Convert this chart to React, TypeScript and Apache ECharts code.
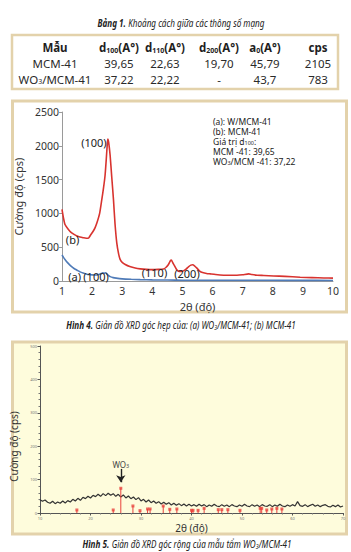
import React, { useEffect, useRef } from 'react';
import * as echarts from 'echarts';

const F = '"Noto Sans", sans-serif';
const TAN = '#e3d2ab';
const RED = '#d8332f';
const BLUE = '#4f7bb8';

// ---------- Table 1 ----------
const headerMain = ['Mẫu', 'd', 'd', 'd', 'a', 'cps'];
const headerSub = ['', '100', '110', '200', '0', ''];
const headerUnit = ['', '(A°)', '(A°)', '(A°)', '(A°)', ''];
const sampleMain = ['MCM-41', 'WO'];
const sampleSub = ['', '3'];
const sampleTail = ['', '/MCM-41'];
const d100Values = ['39,65', '37,22'];
const d110Values = ['22,63', '22,22'];
const d200Values = ['19,70', '-'];
const a0Values = ['45,79', '43,7'];
const cpsValues = ['2105', '783'];

// ---------- Figure 4 (small angle XRD) ----------
const xTicks4 = [1, 10];
const yTicks4 = [0, 2500];
const mcm41Scan = [
  [1, 1060], [1.05, 930], [1.1, 835], [1.2, 770], [1.3, 720], [1.4, 690], [1.5, 665], [1.6, 650],
  [1.7, 640], [1.8, 632], [1.88, 635], [1.95, 680], [2.04, 740], [2.1, 790], [2.16, 860], [2.25, 1000],
  [2.32, 1200], [2.38, 1380], [2.43, 1560], [2.47, 1800], [2.5, 2000], [2.52, 2100], [2.55, 2050],
  [2.6, 1850], [2.65, 1550], [2.71, 1200], [2.76, 850], [2.82, 560], [2.88, 400], [2.93, 320],
  [3.0, 275], [3.1, 245], [3.25, 215], [3.43, 192], [3.6, 180], [3.8, 172], [4.0, 168], [4.2, 172],
  [4.37, 178], [4.45, 200], [4.53, 240], [4.6, 300], [4.63, 310], [4.68, 270], [4.72, 238], [4.8, 175],
  [4.87, 145], [4.95, 142], [5.03, 150], [5.12, 175], [5.2, 210], [5.28, 235], [5.34, 240], [5.4, 225],
  [5.48, 190], [5.56, 150], [5.64, 128], [5.8, 112], [5.92, 105], [6.1, 95], [6.37, 86], [6.6, 85],
  [6.81, 85], [7.0, 92], [7.2, 105], [7.3, 95], [7.48, 86], [7.7, 82], [8.03, 75], [8.4, 68],
  [8.91, 56], [9.3, 50], [9.7, 45], [10, 42],
];
const wo3Scan = [
  [1, 385], [1.05, 350], [1.1, 318], [1.15, 290], [1.2, 265], [1.3, 220], [1.4, 185], [1.5, 160],
  [1.6, 135], [1.7, 118], [1.8, 105], [1.9, 95], [2.0, 90], [2.1, 88], [2.2, 92], [2.3, 110],
  [2.35, 120], [2.4, 115], [2.45, 122], [2.5, 100], [2.55, 80], [2.6, 65], [2.7, 50], [2.8, 42],
  [3.0, 32], [3.3, 25], [3.6, 20], [4.0, 16], [4.5, 14], [5, 12], [5.5, 12], [6, 11], [7, 10],
  [8, 10], [9, 9], [10, 8],
];
const redLabels = [
  { text: '(100)', at: [2.06, 2056] },
  { text: '(b)', at: [1.35, 621] },
  { text: '(110)', at: [4.07, 133] },
  { text: '(200)', at: [5.15, 104] },
];
const blueLabels = [
  { text: '(a)', at: [1.42, 60] },
  { text: '(100)', at: [2.13, 60] },
];
const noteLines = [
  '{t|(a): W/MCM-41}',
  '{t|(b): MCM-41}',
  '{t|Giá trị d}{s|100}{t|:}',
  '{t|MCM -41: 39,65}',
  '{t|WO}{s|3}{t|/MCM -41: 37,22}',
];
const noteY = [121, 131, 141, 151, 161];

// ---------- Figure 5 (wide angle XRD) ----------
const xTicks5 = [10, 70];
const yTicks5 = [0, 500];
const wideScan = [
  [10, 40], [10.5, 35], [11, 39], [11.5, 32], [12, 29], [12.5, 35], [13, 28], [13.5, 33], [14, 29],
  [14.5, 36], [15, 30], [15.5, 37], [16, 33], [16.5, 41], [17, 36], [17.5, 44], [18, 38], [18.5, 47],
  [19, 43], [19.5, 50], [20, 45], [20.5, 53], [21, 49], [21.5, 56], [22, 50], [22.5, 58], [23, 52],
  [23.5, 59], [24, 53], [24.5, 58], [25, 50], [25.5, 56], [26, 48], [26.5, 54], [27, 45], [27.5, 51],
  [28, 43], [28.5, 48], [29, 40], [29.5, 46], [30, 36], [30.5, 41], [31, 33], [31.5, 39], [32, 31],
  [32.5, 36], [33, 29], [33.5, 34], [34, 27], [34.5, 32], [35, 26], [35.5, 31], [36, 24], [36.5, 29],
  [37, 23], [37.5, 28], [38, 22], [38.5, 27], [39, 21], [39.5, 26], [40, 21], [40.5, 25], [41, 20],
  [41.5, 26], [42, 21], [42.5, 25], [43, 19], [43.5, 24], [44, 20], [44.5, 26], [45, 21], [45.5, 19],
  [46, 25], [46.5, 20], [47, 24], [47.5, 19], [48, 25], [48.5, 21], [49, 19], [49.5, 24], [50, 20],
  [50.5, 26], [51, 21], [51.5, 19], [52, 25], [52.5, 20], [53, 24], [53.5, 19], [54, 25], [54.5, 21],
  [55, 20], [55.5, 25], [56, 19], [56.5, 24], [57, 20], [57.5, 26], [58, 21], [58.5, 19], [59, 24],
  [59.5, 20], [60, 25], [60.5, 21], [61, 34], [61.5, 22], [62, 20], [62.5, 25], [63, 19], [63.5, 23],
  [64, 26], [64.5, 20], [65, 24], [65.5, 19], [66, 23], [66.5, 25], [67, 20], [67.5, 18], [68, 23],
  [68.5, 19], [69, 24], [69.5, 18], [70, 21],
];
const wo3RefPeaks = [
  [17.3, 9], [24.5, 9], [26.0, 74], [28.4, 21], [29.8, 7], [31.3, 12], [31.8, 12], [34.4, 21],
  [35.7, 11], [37.1, 12], [40.0, 8], [40.3, 8], [41.3, 8], [42.5, 14], [45.3, 10], [46.0, 10],
  [47.2, 10], [49.6, 8], [53.6, 14], [53.9, 14], [54.9, 9], [55.9, 12], [56.9, 14], [57.9, 12],
];

const colX = [55, 119, 165, 219, 265, 318];
const rowY = [47.5, 63.5, 79];

function cellText(x: number, y: number, text: string) {
  return {
    type: 'text', x, y, z: 10,
    style: {
      text,
      align: 'center', verticalAlign: 'middle', textAlign: 'center', textVerticalAlign: 'middle',
      fontFamily: F, fontSize: 11.5, fill: '#2a2a2a',
      rich: {
        h: { fontFamily: F, fontSize: 11.5, lineHeight: 12, fontWeight: 'bold', fill: '#1e1e1e' },
        hs: { fontFamily: F, fontSize: 7, lineHeight: 7, fontWeight: 'bold', fill: '#1e1e1e', padding: [5, 0, 0, 0] },
        c: { fontFamily: F, fontSize: 11.5, lineHeight: 12, fill: '#2a2a2a' },
        cs: { fontFamily: F, fontSize: 7, lineHeight: 7, fill: '#2a2a2a', padding: [5, 0, 0, 0] },
      },
    },
  };
}

function caption(x: number, y: number, text: string) {
  return {
    type: 'text', x, y, z: 10, scaleX: 0.74,
    style: {
      text,
      align: 'center', verticalAlign: 'middle', textAlign: 'center', textVerticalAlign: 'middle',
      fontFamily: F, fontSize: 11, fill: '#222',
      rich: {
        b: { fontFamily: F, fontSize: 11, fontWeight: 'bold', fontStyle: 'italic', fill: '#222' },
        i: { fontFamily: F, fontSize: 11, fontStyle: 'italic', fill: '#222' },
        is: { fontFamily: F, fontSize: 7, fontStyle: 'italic', fill: '#222', padding: [5, 0, 0, 0] },
      },
    },
  };
}

function buildTable() {
  const els: any[] = [];
  headerMain.forEach((m, i) => {
    const t = headerSub[i]
      ? `{h|${m}}{hs|${headerSub[i]}}{h|${headerUnit[i]}}`
      : `{h|${m}}`;
    els.push(cellText(colX[i], rowY[0], t));
  });
  for (let r = 0; r < 2; r++) {
    const name = sampleSub[r]
      ? `{c|${sampleMain[r]}}{cs|${sampleSub[r]}}{c|${sampleTail[r]}}`
      : `{c|${sampleMain[r]}}`;
    const vals = [d100Values[r], d110Values[r], d200Values[r], a0Values[r], cpsValues[r]];
    els.push(cellText(colX[0], rowY[r + 1], name));
    vals.forEach((v, i) => els.push(cellText(colX[i + 1], rowY[r + 1], `{c|${v}}`)));
  }
  return els;
}

function buildNotes() {
  return noteLines.map((t, i) => ({
    type: 'text', x: 213, y: noteY[i], z: 10,
    style: {
      text: t,
      align: 'left', verticalAlign: 'middle', textAlign: 'left', textVerticalAlign: 'middle',
      fontFamily: F, fontSize: 8.5, fill: '#222',
      rich: {
        t: { fontFamily: F, fontSize: 8.5, lineHeight: 9, fill: '#222' },
        s: { fontFamily: F, fontSize: 5.5, lineHeight: 4, fill: '#222', verticalAlign: 'bottom' },
      },
    },
  }));
}

function markLabels(list: { text: string; at: number[] }[]) {
  return {
    symbol: 'circle',
    symbolSize: 1,
    itemStyle: { color: 'rgba(0,0,0,0)' },
    label: { show: true, position: 'inside', fontFamily: F, fontSize: 11, color: '#222' },
    data: list.map((l) => ({ coord: l.at, label: { formatter: l.text } })),
  };
}

const plain = (v: number) => String(v);

const option: any = {
  animation: false,
  backgroundColor: '#ffffff',
  graphic: [
    { type: 'rect', z: -5, shape: { x: 12, y: 35, width: 326, height: 54 }, style: { fill: '#fff', stroke: TAN, lineWidth: 2.5 } },
    { type: 'rect', z: -5, shape: { x: 12.5, y: 101, width: 334, height: 211 }, style: { fill: '#fff', stroke: TAN, lineWidth: 3 } },
    { type: 'rect', z: -5, shape: { x: 12.5, y: 342, width: 334, height: 192 }, style: { fill: '#fefcdc', stroke: TAN, lineWidth: 3 } },
    caption(181, 23, '{b|Bảng 1.}{i| Khoảng cách giữa các thông số mạng}'),
    ...buildTable(),
    caption(181, 325, '{b|Hình 4.}{i| Giản đồ XRD góc hẹp của: (a) WO}{is|3}{i|/MCM-41; (b) MCM-41}'),
    caption(187, 544, '{b|Hình 5.}{i| Giản đồ XRD góc rộng của mẫu tẩm WO}{is|3}{i|/MCM-41}'),
    ...buildNotes(),
  ],
  grid: [
    { left: 62, top: 112, width: 271, height: 169 },
    { left: 40, top: 346, width: 303, height: 167 },
  ],
  xAxis: [
    {
      gridIndex: 0, type: 'value', min: xTicks4[0], max: xTicks4[1], interval: 1,
      name: '2θ (độ)', nameLocation: 'middle', nameGap: 20,
      nameTextStyle: { fontFamily: F, fontSize: 11, color: '#333' },
      axisLine: { show: true, onZero: false, lineStyle: { color: '#9a9a9a', width: 1 } },
      axisTick: { show: false },
      axisLabel: { fontFamily: F, fontSize: 10.5, color: '#333', margin: 4, formatter: plain },
      splitLine: { show: false },
    },
    {
      gridIndex: 1, type: 'value', min: xTicks5[0], max: xTicks5[1], interval: 10,
      name: '2θ (độ)', nameLocation: 'middle', nameGap: 10,
      nameTextStyle: { fontFamily: F, fontSize: 10, color: '#333' },
      axisLine: { show: true, onZero: false, lineStyle: { color: '#555', width: 1 } },
      axisTick: { show: true, length: 2.5, lineStyle: { color: '#555' } },
      minorTick: { show: true, splitNumber: 5, length: 1.5, lineStyle: { color: '#777' } },
      axisLabel: { fontFamily: F, fontSize: 4, color: '#777', margin: 3, formatter: plain },
      splitLine: { show: false },
    },
  ],
  yAxis: [
    {
      gridIndex: 0, type: 'value', min: yTicks4[0], max: yTicks4[1], interval: 500,
      name: 'Cường độ (cps)', nameLocation: 'middle', nameGap: 35,
      nameTextStyle: { fontFamily: F, fontSize: 11, color: '#333' },
      axisLine: { show: true, lineStyle: { color: '#9a9a9a', width: 1 } },
      axisTick: { show: true, length: 3, lineStyle: { color: '#9a9a9a' } },
      axisLabel: { fontFamily: F, fontSize: 10.5, color: '#333', margin: 3, formatter: plain },
      splitLine: { show: false },
    },
    {
      gridIndex: 1, type: 'value', min: yTicks5[0], max: yTicks5[1], interval: 100,
      name: 'Cường độ (cps)', nameLocation: 'middle', nameGap: 13,
      nameTextStyle: { fontFamily: F, fontSize: 10, color: '#333', padding: [0, 34, 0, 0] },
      axisLine: { show: true, lineStyle: { color: '#555', width: 1 } },
      axisTick: { show: true, length: 2.5, lineStyle: { color: '#555' } },
      minorTick: { show: true, splitNumber: 5, length: 1.5, lineStyle: { color: '#777' } },
      axisLabel: { fontFamily: F, fontSize: 4, color: '#777', margin: 3, formatter: plain },
      splitLine: { show: false },
    },
  ],
  series: [
    {
      name: 'MCM-41', type: 'line', xAxisIndex: 0, yAxisIndex: 0, data: mcm41Scan,
      showSymbol: false, smooth: 0.2, lineStyle: { color: RED, width: 1.6 }, itemStyle: { color: RED },
      markPoint: markLabels(redLabels),
    },
    {
      name: 'WO3/MCM-41', type: 'line', xAxisIndex: 0, yAxisIndex: 0, data: wo3Scan,
      showSymbol: false, smooth: 0.2, lineStyle: { color: BLUE, width: 1.6 }, itemStyle: { color: BLUE },
      markPoint: markLabels(blueLabels),
    },
    {
      name: 'WO3 ref', type: 'bar', xAxisIndex: 1, yAxisIndex: 1, data: wo3RefPeaks,
      barWidth: 1, itemStyle: { color: '#e8423d' }, z: 3,
      markLine: {
        silent: true, symbol: ['none', 'arrow'], symbolSize: 7,
        lineStyle: { color: '#222', width: 1.4, type: 'solid' },
        label: { show: false },
        data: [[{ coord: [26, 132] }, { coord: [26, 92] }]],
      },
      markPoint: {
        symbol: 'circle', symbolSize: 1, itemStyle: { color: 'rgba(0,0,0,0)' },
        label: {
          show: true, position: 'inside', formatter: '{a|WO}{s|3}',
          rich: {
            a: { fontFamily: F, fontSize: 8, color: '#444' },
            s: { fontFamily: F, fontSize: 5.5, color: '#444', padding: [3, 0, 0, 0] },
          },
        },
        data: [{ coord: [26, 145] }],
      },
    },
    {
      name: 'WO3 ref top', type: 'scatter', xAxisIndex: 1, yAxisIndex: 1, data: wo3RefPeaks,
      symbol: 'rect', symbolSize: 3, itemStyle: { color: '#e8423d' }, z: 4,
    },
    {
      name: 'Wide scan', type: 'line', xAxisIndex: 1, yAxisIndex: 1, data: wideScan,
      showSymbol: false, lineStyle: { color: '#333', width: 1.2 }, z: 2,
    },
  ],
};

export default function App() {
  const ref = useRef<HTMLDivElement>(null);
  useEffect(() => {
    const chart = echarts.init(ref.current!, null, { renderer: 'svg' });
    chart.setOption(option);
    return () => chart.dispose();
  }, []);
  return (
    <div
      ref={ref}
      style={{ position: 'absolute', left: 0, top: 0, width: 351, height: 552 }}
    />
  );
}
